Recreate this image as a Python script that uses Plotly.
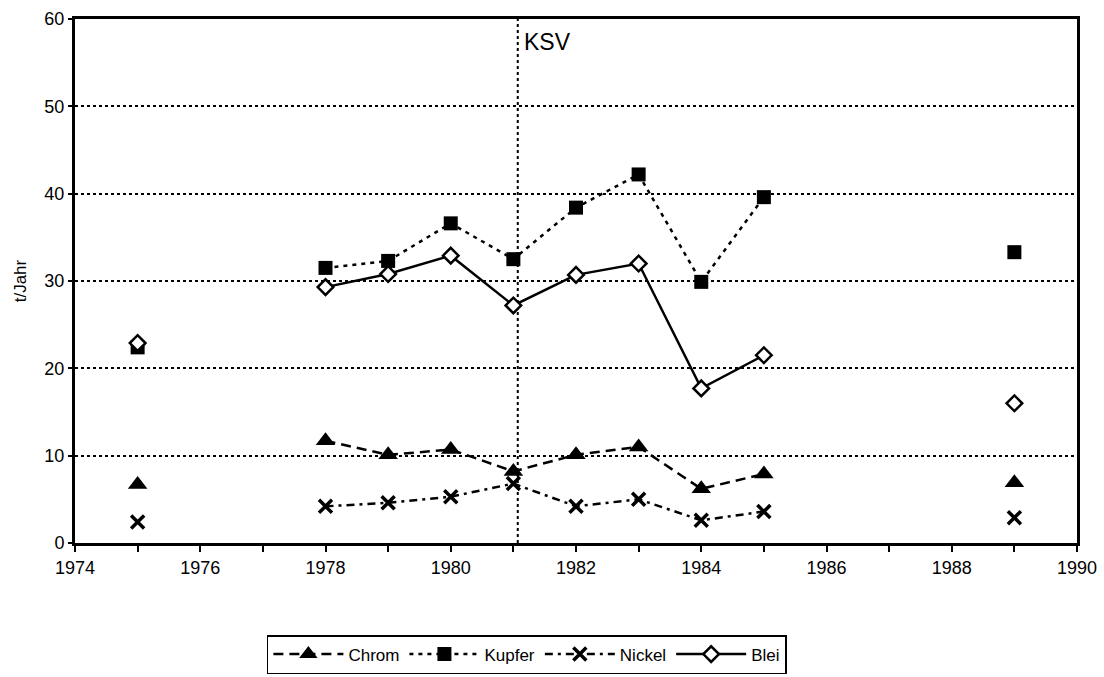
import plotly.graph_objects as go

years = list(range(1975, 1990))
chrom = [6.7, None, None, 11.7, 10.1, 10.7, 8.2, 10.1, 11.0, 6.2, 7.9, None, None, None, 6.9]
kupfer = [22.4, None, None, 31.5, 32.3, 36.6, 32.5, 38.4, 42.2, 29.9, 39.6, None, None, None, 33.3]
nickel = [2.4, None, None, 4.2, 4.6, 5.3, 6.8, 4.2, 5.0, 2.6, 3.6, None, None, None, 2.9]
blei = [22.9, None, None, 29.3, 30.8, 32.9, 27.2, 30.7, 32.0, 17.7, 21.5, None, None, None, 16.0]

x_tickvals = list(range(1974, 1991))
x_ticktext = [str(y) if y % 2 == 0 else "" for y in x_tickvals]
y_tickvals = [0, 10, 20, 30, 40, 50, 60]
KSV_YEAR = 1981.07
KSV_LABEL = "KSV"

FONT = "Liberation Sans, Arial, sans-serif"

fig = go.Figure()
fig.add_trace(go.Scatter(
    x=years, y=chrom, name="Chrom", mode="lines+markers", connectgaps=False,
    line=dict(color="black", width=2.5, dash="10px,6px"),
    marker=dict(symbol="triangle-up", size=17, color="black")))
fig.add_trace(go.Scatter(
    x=years, y=kupfer, name="Kupfer", mode="lines+markers", connectgaps=False,
    line=dict(color="black", width=2.5, dash="4px,5px"),
    marker=dict(symbol="square", size=14, color="black")))
fig.add_trace(go.Scatter(
    x=years, y=nickel, name="Nickel", mode="lines+markers", connectgaps=False,
    line=dict(color="black", width=2.5, dash="8px,5px,3px,5px"),
    marker=dict(symbol="x-thin", size=13, color="black",
                line=dict(color="black", width=3.5))))
fig.add_trace(go.Scatter(
    x=years, y=blei, name="Blei", mode="lines+markers", connectgaps=False,
    line=dict(color="black", width=2.5),
    marker=dict(symbol="diamond", size=12, color="white",
                line=dict(color="black", width=2.5))))

fig.add_shape(type="line", xref="x", yref="paper", x0=KSV_YEAR, x1=KSV_YEAR, y0=0, y1=1,
              line=dict(color="black", width=2, dash="dot"), layer="below")
fig.add_annotation(x=KSV_YEAR, xref="x", xanchor="left", xshift=4,
                   y=0.985, yref="paper", yanchor="top", showarrow=False,
                   text=KSV_LABEL, font=dict(family=FONT, size=23, color="black"))

fig.update_layout(
    width=1104, height=677,
    margin=dict(l=75, r=27, t=19, b=134, autoexpand=False),
    paper_bgcolor="white", plot_bgcolor="white",
    font=dict(family=FONT, size=18, color="black"),
    showlegend=True,
    legend=dict(orientation="h", x=0.451, xref="paper", xanchor="center",
                y=0.062, yref="container", yanchor="top",
                bordercolor="black", borderwidth=1.5, bgcolor="white",
                font=dict(family=FONT, size=17, color="black"),
                itemwidth=70, tracegroupgap=0),
    xaxis=dict(range=[1974, 1990], tickvals=x_tickvals, ticktext=x_ticktext,
               showgrid=False, zeroline=False,
               showline=True, linecolor="black", linewidth=3, mirror=True,
               ticks="outside", ticklen=6, tickwidth=1.5, tickcolor="black",
               tickfont=dict(family=FONT, size=18, color="black")),
    yaxis=dict(range=[0, 60], tickvals=y_tickvals,
               showgrid=True, gridcolor="black", gridwidth=1.5, griddash="dot",
               zeroline=False,
               showline=True, linecolor="black", linewidth=3, mirror=True,
               ticks="outside", ticklen=4, tickwidth=1.5, tickcolor="black",
               tickfont=dict(family=FONT, size=18, color="black"),
               title=dict(text="t/Jahr", standoff=14,
                          font=dict(family=FONT, size=17, color="black"))),
)

fig.write_html("out.html")
